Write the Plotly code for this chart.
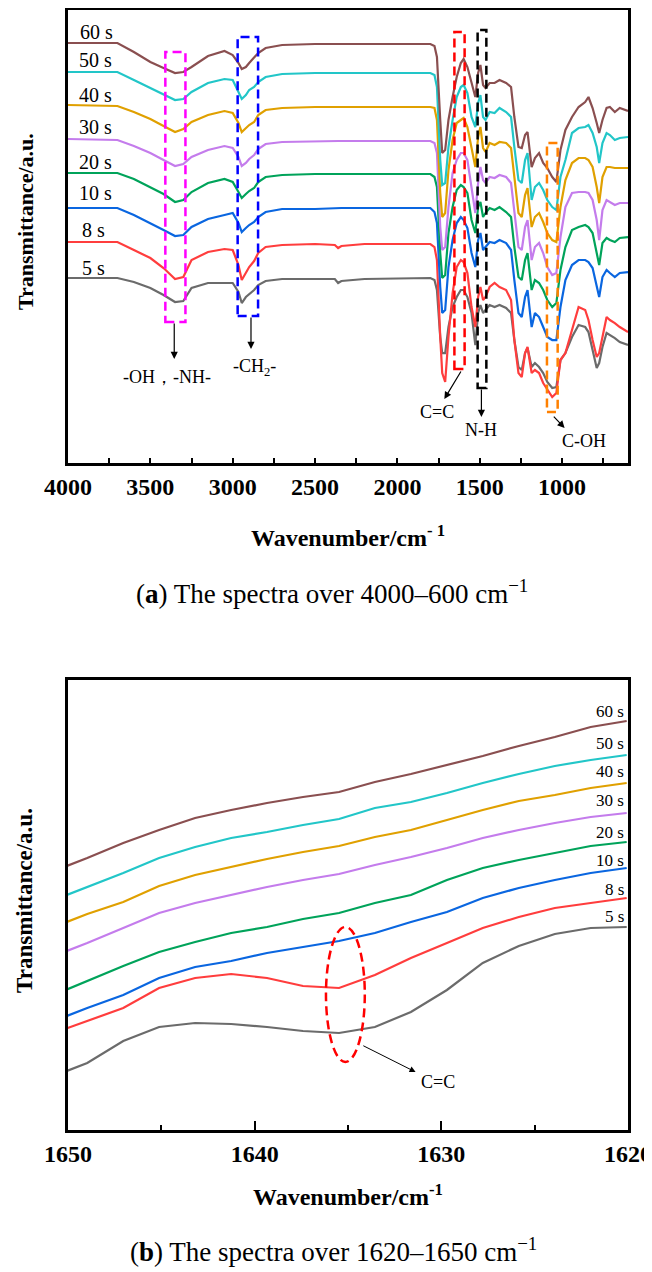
import plotly.graph_objects as go

# ---------------- data: panel (a) 4000-600 cm-1 ----------------
WN_A = [4000, 3700, 3600, 3500, 3420, 3350, 3300, 3250, 3150, 3050, 3000, 2965, 2945, 2920,
        2900, 2870, 2845, 2800, 2700, 2500, 2380, 2360, 2340, 2200,
        1800, 1775, 1760, 1740, 1728, 1710, 1690, 1665, 1640, 1615,
        1598, 1575, 1550, 1527, 1510, 1496, 1480, 1465, 1440, 1410,
        1380, 1340, 1310, 1290, 1265, 1245, 1225, 1210, 1185, 1165,
        1140, 1115, 1090, 1060, 1035, 1010, 980, 940, 900, 860,
        840, 815, 790, 775, 755, 730, 710, 680, 650, 600]

A_60 = [420, 420, 411, 401, 395, 390, 391, 396, 407, 412, 408, 400, 394, 396, 400, 405, 410, 415, 418, 419, 419, 419, 419, 419,
        419, 417, 406, 343, 310, 313, 343, 366, 386, 400, 404, 396, 380, 366, 390, 398, 378, 375, 380, 380,
        383, 380, 376, 346, 316, 315, 328, 331, 296, 305, 310, 300, 295, 286, 281, 313, 333, 346, 356, 361,
        366, 355, 340, 330, 343, 355, 356, 351, 355, 352]
A_50 = [391, 391, 383, 375, 368, 363, 364, 371, 380, 384, 383, 371, 364, 368, 373, 376, 381, 386, 389, 390, 390, 390, 390, 390,
        390, 388, 376, 303, 278, 280, 316, 343, 366, 376, 378, 370, 346, 336, 360, 368, 346, 343, 351, 350,
        355, 351, 346, 316, 283, 280, 303, 310, 263, 276, 280, 273, 263, 256, 253, 286, 303, 330, 335, 336,
        338, 330, 316, 300, 320, 330, 328, 323, 325, 326]
A_40 = [358, 357, 351, 344, 337, 331, 334, 341, 348, 352, 350, 340, 331, 335, 338, 341, 348, 353, 355, 356, 356, 356, 356, 356,
        356, 355, 343, 270, 246, 250, 293, 323, 340, 343, 345, 336, 313, 296, 326, 336, 315, 311, 320, 318,
        321, 320, 315, 286, 250, 246, 268, 275, 236, 246, 250, 241, 230, 223, 221, 256, 283, 300, 305, 305,
        303, 296, 276, 260, 286, 296, 296, 295, 295, 295]
A_30 = [324, 323, 317, 310, 303, 297, 299, 306, 313, 317, 315, 306, 297, 300, 304, 308, 314, 319, 321, 322, 322, 322, 322, 322,
        322, 320, 310, 236, 213, 216, 256, 290, 303, 310, 310, 303, 276, 250, 280, 296, 283, 280, 286, 285,
        288, 286, 280, 253, 216, 213, 236, 243, 203, 216, 220, 210, 196, 188, 190, 226, 256, 270, 271, 271,
        270, 263, 243, 223, 253, 263, 261, 258, 260, 260]
A_20 = [290, 290, 284, 276, 269, 261, 263, 271, 280, 284, 281, 271, 265, 269, 272, 275, 281, 286, 288, 289, 289, 289, 289, 289,
        289, 286, 276, 210, 185, 188, 230, 256, 273, 278, 276, 270, 243, 230, 256, 261, 246, 250, 255, 253,
        256, 251, 246, 216, 186, 183, 203, 210, 173, 183, 180, 173, 163, 156, 160, 193, 216, 233, 236, 238,
        236, 230, 210, 198, 220, 225, 223, 221, 225, 226]
A_10 = [255, 255, 248, 240, 233, 227, 228, 236, 244, 248, 250, 240, 231, 235, 238, 241, 246, 251, 254, 254, 255, 255, 255, 255,
        255, 251, 240, 176, 150, 153, 196, 223, 240, 246, 243, 235, 210, 196, 223, 230, 213, 216, 221, 220,
        223, 220, 213, 183, 150, 146, 166, 173, 136, 150, 146, 136, 126, 123, 123, 156, 183, 198, 203, 203,
        201, 195, 176, 166, 186, 193, 190, 186, 190, 191]
A_8 = [221, 221, 213, 205, 195, 184, 186, 203, 211, 214, 213, 198, 183, 190, 196, 202, 210, 216, 218, 219, 218, 215, 217, 219,
       219, 216, 203, 126, 90, 81, 126, 170, 196, 203, 201, 190, 156, 136, 166, 176, 163, 166, 176, 180,
       176, 173, 163, 123, 90, 86, 110, 116, 90, 93, 90, 80, 73, 66, 70, 103, 110, 133, 156, 153,
       143, 123, 106, 110, 126, 146, 143, 140, 136, 131]
A_5 = [185, 185, 181, 175, 168, 161, 162, 175, 180, 180, 180, 171, 160, 166, 169, 173, 178, 182, 184, 184, 184, 180, 182, 184,
       185, 183, 173, 126, 110, 110, 136, 156, 166, 173, 173, 166, 150, 118, 150, 158, 150, 153, 158, 156,
       158, 155, 150, 123, 96, 93, 110, 115, 96, 100, 96, 90, 81, 75, 76, 103, 110, 126, 138, 136,
       131, 113, 95, 100, 116, 130, 128, 125, 121, 118]

# ---------------- data: panel (b) 1650-1620 cm-1 ----------------
WN_B = [1650.90, 1648.97, 1647.04, 1645.12, 1643.19, 1641.26, 1639.34, 1637.41, 1635.48,
        1633.56, 1631.63, 1629.70, 1627.78, 1625.85, 1623.92, 1622.00, 1620.07]
B_60 = [258, 272, 287, 300, 312, 320, 327, 333, 338, 348, 356, 365, 374, 384, 393, 403, 409]
B_50 = [229, 243, 257, 272, 283, 292, 298, 305, 311, 322, 328, 337, 347, 356, 364, 370, 375]
B_40 = [202, 216, 228, 244, 255, 263, 271, 278, 284, 293, 300, 310, 320, 329, 335, 342, 347]
B_30 = [173, 187, 202, 217, 227, 235, 243, 250, 256, 265, 273, 282, 292, 300, 307, 313, 317]
B_20 = [134, 149, 164, 178, 188, 197, 203, 211, 217, 227, 235, 250, 262, 270, 277, 284, 288]
B_10 = [108, 122, 135, 152, 163, 169, 177, 183, 189, 197, 208, 218, 232, 242, 250, 257, 262]
B_8 = [96, 109, 122, 142, 152, 156, 152, 144, 142, 155, 172, 187, 202, 213, 222, 227, 232]
B_5 = [53, 67, 89, 103, 107, 106, 103, 99, 97, 103, 118, 140, 167, 184, 196, 202, 203]

NAMES = ["5 s", "8 s", "10 s", "20 s", "30 s", "40 s", "50 s", "60 s"]
COLORS = ["#6b6b6b", "#ff3d3d", "#0a66e0", "#00a35a", "#c47cec", "#e0a000", "#22c6c8", "#8a4f50"]
SERIES_A = [A_5, A_8, A_10, A_20, A_30, A_40, A_50, A_60]
SERIES_B = [B_5, B_8, B_10, B_20, B_30, B_40, B_50, B_60]

SERIF = "Liberation Serif, Times New Roman, serif"

fig = go.Figure()
for name, col, ya, yb in zip(NAMES, COLORS, SERIES_A, SERIES_B):
    fig.add_trace(go.Scatter(x=WN_A, y=ya, mode="lines", name=name,
                             line=dict(color=col, width=2.2), xaxis="x", yaxis="y"))
    fig.add_trace(go.Scatter(x=WN_B, y=yb, mode="lines", name=name,
                             line=dict(color=col, width=2.2), xaxis="x2", yaxis="y2"))

axis_common = dict(showline=True, linecolor="black", linewidth=3, mirror=True,
                   showgrid=False, zeroline=False, automargin=False)

# the page body adds an 8 px offset; figure is sized so it ends at the window edge
fig.update_layout(
    width=644, height=1264,
    margin=dict(l=60, r=24, t=2, b=142, autoexpand=False),
    paper_bgcolor="white", plot_bgcolor="white",
    showlegend=False,
    xaxis=dict(**axis_common, domain=[0, 1], anchor="y", range=[4000, 600],
               tickmode="linear", tick0=4000, dtick=500, ticks="inside", ticklen=5,
               tickwidth=2, tickcolor="black",
               minor=dict(ticks="inside", ticklen=5, tickwidth=2, tickcolor="black", dtick=250, tick0=4000),
               tickfont=dict(family=SERIF, size=24, color="black", weight="bold")),
    yaxis=dict(**axis_common, domain=[0.5955, 1], anchor="x", range=[0, 453],
               showticklabels=False, ticks=""),
    xaxis2=dict(**axis_common, domain=[0, 1], anchor="y2", range=[1650, 1620],
                tickmode="linear", tick0=1650, dtick=10, ticks="inside", ticklen=9,
                tickwidth=2, tickcolor="black",
                minor=dict(ticks="inside", ticklen=5, tickwidth=2, tickcolor="black", dtick=5, tick0=1650),
                tickfont=dict(family=SERIF, size=24, color="black", weight="bold")),
    yaxis2=dict(**axis_common, domain=[0, 0.4018], anchor="x2", range=[0, 450],
                showticklabels=False, ticks=""),
)

shapes = []
annots = []

# series labels, panel (a)
label_a = [("60 s", 3937, 431), ("50 s", 3945, 403), ("40 s", 3948, 368), ("30 s", 3945, 336),
           ("20 s", 3945, 301), ("10 s", 3945, 270), ("8 s", 3925, 233), ("5 s", 3925, 195)]
for t, x, y in label_a:
    annots.append(dict(x=x, y=y, xref="x", yref="y", text=t, showarrow=False, xanchor="left",
                       yanchor="middle", font=dict(family=SERIF, size=20, color="black")))

# series labels, panel (b)
label_b = [("60 s", 418), ("50 s", 386), ("40 s", 358), ("30 s", 329),
           ("20 s", 297), ("10 s", 269), ("8 s", 240), ("5 s", 213)]
for t, y in label_b:
    annots.append(dict(x=1620.1, y=y, xref="x2", yref="y2", text=t, showarrow=False, xanchor="right",
                       yanchor="middle", font=dict(family=SERIF, size=17, color="black")))

# dashed boxes panel (a)
boxes = [(3409, 3287, 141, 411, "#ff00ff"), (2970, 2846, 147, 426, "#0000ff"),
         (1654, 1592, 94, 431, "#ff0000"), (1513, 1460, 75, 433, "#000000"),
         (1092, 1027, 51, 320, "#ff8000")]
for x0, x1, y0, y1, c in boxes:
    shapes.append(dict(type="rect", xref="x", yref="y", x0=x0, x1=x1, y0=y0, y1=y1,
                       line=dict(color=c, width=2.5, dash="9px,5px"), fillcolor="rgba(0,0,0,0)"))

# arrows panel (a): (tail_x, tail_y, head_x, head_y)
arrows_a = [(3355, 141, 3355, 104), (2889, 147, 2889, 114), (1609, 93, 1715, 64),
            (1490, 75, 1490, 46), (1059, 48, 985, 35)]
for tx, ty, hx, hy in arrows_a:
    annots.append(dict(x=hx, y=hy, ax=tx, ay=ty, xref="x", yref="y", axref="x", ayref="y",
                       text="", showarrow=True, arrowhead=2, arrowsize=1.2, arrowwidth=1.2,
                       arrowcolor="black", standoff=0, startstandoff=0))

labels_a = [("-OH，-NH-", 3400, 86), ("-CH<sub>2</sub>-", 2866, 96), ("C=C", 1760, 51),
            ("N-H", 1490, 33), ("C-OH", 865, 22)]
for t, x, y in labels_a:
    annots.append(dict(x=x, y=y, xref="x", yref="y", text=t, showarrow=False,
                       xanchor="center", yanchor="middle", font=dict(family=SERIF, size=18, color="black")))

# panel (b) ellipse + arrow + label
shapes.append(dict(type="circle", xref="x2", yref="y2", x0=1636.18, x1=1634.10, y0=68, y1=203,
                   line=dict(color="#ff0000", width=2.5, dash="9px,5px"), fillcolor="rgba(0,0,0,0)"))
annots.append(dict(x=1631.38, y=58, ax=1634.26, ay=85, xref="x2", yref="y2", axref="x2", ayref="y2",
                   text="", showarrow=True, arrowhead=2, arrowsize=1.2, arrowwidth=1,
                   arrowcolor="black", standoff=0, startstandoff=0))
annots.append(dict(x=1630.16, y=48, xref="x2", yref="y2", text="C=C", showarrow=False,
                   xanchor="center", yanchor="middle", font=dict(family=SERIF, size=18, color="black")))

# axis titles
annots.append(dict(x=-0.0768, y=0.8116, xref="paper", yref="paper", text="Transmittance/a.u.",
                   textangle=-90, showarrow=False, xanchor="center", yanchor="middle",
                   font=dict(family=SERIF, size=22, color="black", weight="bold")))
annots.append(dict(x=-0.0768, y=0.2054, xref="paper", yref="paper", text="Transmittance/a.u.",
                   textangle=-90, showarrow=False, xanchor="center", yanchor="middle",
                   font=dict(family=SERIF, size=23, color="black", weight="bold")))
annots.append(dict(x=0.5, y=0.5304, xref="paper", yref="paper", text="Wavenumber/cm<sup>- 1</sup>",
                   showarrow=False, xanchor="center", yanchor="middle",
                   font=dict(family=SERIF, size=24, color="black", weight="bold")))
annots.append(dict(x=0.5, y=-0.058, xref="paper", yref="paper", text="Wavenumber/cm<sup>-1</sup>",
                   showarrow=False, xanchor="center", yanchor="middle",
                   font=dict(family=SERIF, size=24, color="black", weight="bold")))

# captions
annots.append(dict(x=0.4723, y=0.4804, xref="paper", yref="paper",
                   text="(<b>a</b>) The spectra over 4000–600 cm<sup>−1</sup>",
                   showarrow=False, xanchor="center", yanchor="middle",
                   font=dict(family=SERIF, size=27, color="black")))
annots.append(dict(x=0.4745, y=-0.107, xref="paper", yref="paper",
                   text="(<b>b</b>) The spectra over 1620–1650 cm<sup>−1</sup>",
                   showarrow=False, xanchor="center", yanchor="middle",
                   font=dict(family=SERIF, size=27, color="black")))

fig.update_layout(shapes=shapes, annotations=annots)
fig.write_html("out.html")
